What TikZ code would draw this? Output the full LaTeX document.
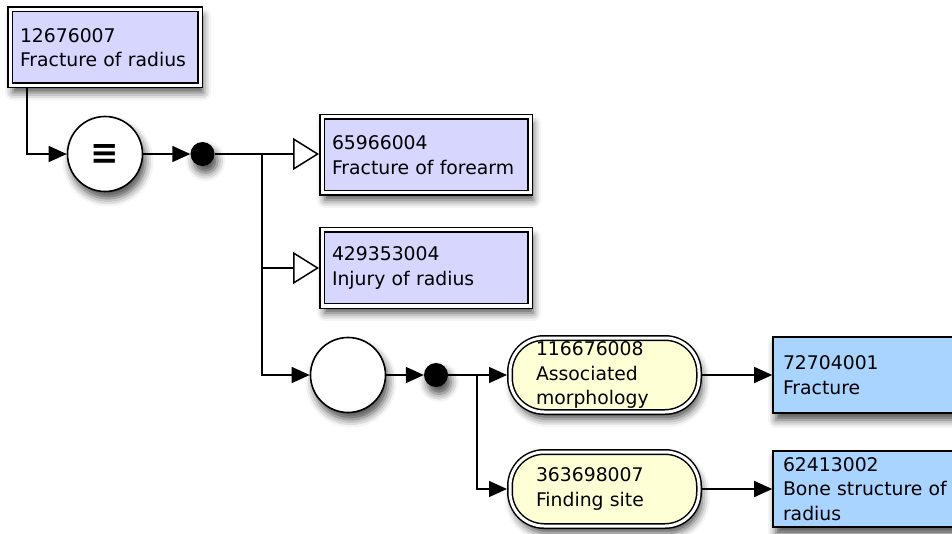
\documentclass[tikz,border=0pt]{standalone}
\usepackage{fontspec}
\setmainfont{DejaVu Sans}
\usetikzlibrary{arrows.meta,shadows.blur}
\definecolor{lav}{RGB}{214,214,254}
\definecolor{cream}{RGB}{255,255,214}
\definecolor{skyb}{RGB}{168,212,255}
\begin{document}
\begin{tikzpicture}[x=1pt,y=-1pt,
  node font=\fontsize{18.8}{24.5}\selectfont,
  shd/.style={blur shadow={shadow xshift=3pt,shadow yshift=-7pt,shadow blur radius=8pt,shadow opacity=70}},
  dbl/.style={draw,line width=1.5pt,double=white,double distance=3pt,outer sep=3pt},
  lavbox/.style={rectangle,dbl,fill=lav,shd,inner xsep=10pt,inner ysep=0pt,text width=#1,align=left,minimum height=76pt},
  rolebox/.style={rectangle,dbl,rounded corners=34pt,fill=cream,shd,inner xsep=26pt,inner ysep=0pt,text width=137pt,align=left,minimum height=74pt},
  bluebox/.style={rectangle,draw,line width=1.6pt,fill=skyb,shd,inner xsep=10pt,inner ysep=0pt,text width=170pt,align=left,minimum height=76pt},
  circnode/.style={circle,draw,line width=1.6pt,fill=white,minimum size=75pt,inner sep=0pt,shd},
  dotnode/.style={circle,fill=black,minimum size=24pt,inner sep=0pt,shd},
  ln/.style={line width=1.5pt},
  arr/.style={ln,-{Triangle[length=18pt,width=16pt]}},
  isa/.style={ln,-{Triangle[length=26pt,width=32pt,fill=white]}}
]
\useasboundingbox (0,0) rectangle (952,534);
\clip (0,0) rectangle (952,534);

\node[lavbox=170pt] (b1) at (105,47.5) {12676007\\Fracture of radius};
\node[circnode] (c1) at (105,154) {\fontsize{34}{34}\selectfont\bfseries ≡};
\node[dotnode] (d1) at (202.5,154) {};
\node[lavbox=188pt] (b2) at (426,155) {65966004\\Fracture of forearm};
\node[lavbox=188pt] (b3) at (426,268) {429353004\\Injury of radius};
\node[circnode] (c2) at (348,375) {};
\node[dotnode] (d2) at (436,375) {};
\node[rolebox] (r1) at (604.5,375) {116676008\\Associated\\morphology};
\node[rolebox] (r2) at (604.5,489) {363698007\\Finding site};
\node[bluebox] (s1) at (868,375) {72704001\\Fracture};
\node[bluebox] (s2) at (868,489) {62413002\\Bone structure of\\radius};

\coordinate (j1) at (262,154);
\coordinate (j2) at (477,375);

\draw[arr] ([xshift=20pt]b1.south west) |- (c1.west);
\draw[arr] (c1) -- (d1);
\draw[isa] (d1) -- (d1 -| b2.west);
\draw[isa] (j1) |- (b3.west);
\draw[arr] (j1) |- (c2.west);
\draw[arr] (c2) -- (d2);
\draw[arr] (d2) -- (r1.west);
\draw[arr] (j2) |- (r2.west);
\draw[arr] (r1) -- (s1);
\draw[arr] (r2) -- (s2);
\end{tikzpicture}
\end{document}
